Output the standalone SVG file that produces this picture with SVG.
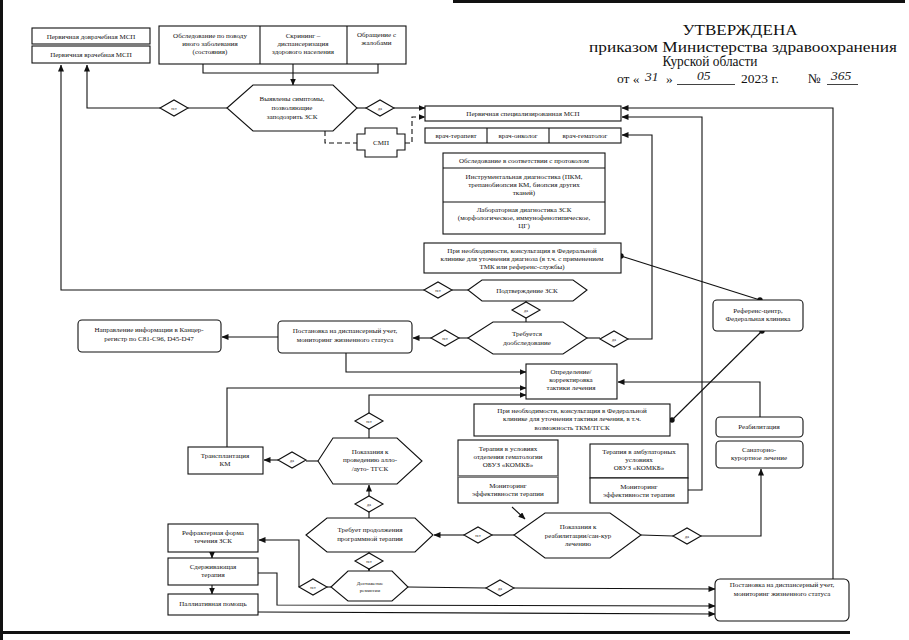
<svg xmlns="http://www.w3.org/2000/svg" width="909" height="640" viewBox="0 0 909 640">
<style>
.b{fill:#fff;stroke:#111;stroke-width:1.1}
.t{font-family:"Liberation Serif","DejaVu Serif",serif;font-size:7px;fill:#111;text-anchor:middle}
.s{font-size:4px}
.h{font-family:"Liberation Serif","DejaVu Serif",serif;font-size:14px;fill:#111;text-anchor:middle}
.hs{font-family:"Liberation Serif","DejaVu Serif",serif;font-size:13.5px;fill:#111}
.hw{font-family:"Liberation Serif",serif;font-style:italic;font-size:13.5px;fill:#222}
.c{fill:none;stroke:#111;stroke-width:1.1}
.a{marker-end:url(#ar)}
.d{stroke-dasharray:5 3}
</style>
<defs>
<marker id="ar" markerWidth="7" markerHeight="6" refX="6.5" refY="3" orient="auto" markerUnits="userSpaceOnUse"><path d="M0,0 L7,3 L0,6 z" fill="#111"/></marker>
</defs>
<rect width="909" height="640" fill="#fff"/>
<g id="scan-edges" fill="#111">
<rect x="0" y="0" width="3" height="640"/>
<rect x="0" y="631" width="850" height="3"/>
<rect x="453" y="0" width="452" height="3"/>
</g>
<g id="header">
<text class="h" x="740" y="35" textLength="115" lengthAdjust="spacingAndGlyphs">УТВЕРЖДЕНА</text>
<text class="h" x="743" y="51.5" textLength="308" lengthAdjust="spacingAndGlyphs">приказом Министерства здравоохранения</text>
<text class="h" x="710" y="65.5" textLength="95" lengthAdjust="spacingAndGlyphs">Курской области</text>
<text class="hs" x="617" y="83">от «</text>
<text class="hw" x="645" y="81">31</text>
<text class="hs" x="666" y="83">»</text>
<text class="hw" x="697" y="80">05</text>
<line x1="677" y1="84.5" x2="735" y2="84.5" stroke="#111" stroke-width="0.8"/>
<text class="hs" x="741" y="83">2023 г.</text>
<text class="hs" x="808" y="83">№</text>
<text class="hw" x="831" y="80">365</text>
<line x1="827" y1="84.5" x2="858" y2="84.5" stroke="#111" stroke-width="0.8"/>
</g>
<g id="connectors">
<polyline class="c" points="203,64 203,73 378,73 378,64"/>
<polyline class="c a" points="293,64 293,85"/>
<polyline class="c" points="227,108 188,108"/>
<polyline class="c a" points="160,108 87,108 87,65"/>
<polyline class="c" points="357,108 366,108"/>
<polyline class="c a" points="394,108 425,108"/>
<polyline class="c d" points="325,131 325,143 357,143"/>
<polyline class="c d a" points="405,143 412,143 412,117 425,117"/>
<polyline class="c" points="468,290 452,290"/>
<polyline class="c a" points="424,290 61,290 61,65"/>
<polyline class="c" points="526,301 526,302"/>
<polyline class="c" points="526,318 526,322"/>
<polyline class="c" points="468,338 459,338"/>
<polyline class="c a" points="431,338 413,338"/>
<polyline class="c" points="587,338 600,338"/>
<polyline class="c a" points="628,339 652,339 652,135 622,135"/>
<polyline class="c a" points="278,337 222,337"/>
<polyline class="c a" points="346,353 346,372 526,372"/>
<polyline class="c a" points="227,447 227,388 526,388"/>
<polyline class="c a" points="369,413 369,395 526,395"/>
<polyline class="c" points="369,438 369,429"/>
<polyline class="c" points="318,461 306,461"/>
<polyline class="c a" points="278,460 264,460"/>
<polyline class="c a" points="369,496 369,485"/>
<polyline class="c" points="369,512 369,518"/>
<polyline class="c" points="369,552 369,553"/>
<polyline class="c a" points="369,569 369,571"/>
<polyline class="c" points="331,587 327,587"/>
<polyline class="c a" points="299,587 299,540 259,540"/>
<polyline class="c" points="408,587 486,588"/>
<polyline class="c a" points="514,588 715,589"/>
<polyline class="c a" points="212,552 212,558"/>
<polyline class="c a" points="212,585 212,594"/>
<polyline class="c a" points="258,573 277,573 277,605 715,606"/>
<polyline class="c a" points="258,612 715,614"/>
<polyline class="c a" points="833,579 833,108 622,108"/>
<polyline class="c a" points="688,490 702,490 702,117 622,117"/>
<polyline class="c a" points="760,417 760,382 618,382"/>
<polyline class="c" points="641,535 673,536"/>
<polyline class="c a" points="701,536 761,536 761,469"/>
<polyline class="c" points="514,535 492,535"/>
<polyline class="c a" points="464,535 434,535"/>
<polyline class="c a" points="512,507 525,519"/>
<line class="c" x1="621" y1="256" x2="760" y2="300"/>
<line class="c" x1="762" y1="331" x2="672" y2="420"/>
<g fill="#111"><circle cx="621" cy="256" r="2.7"/><circle cx="760" cy="300" r="2.7"/><circle cx="762" cy="331" r="2.7"/><circle cx="672" cy="420" r="2.7"/></g>
</g>
<g id="diamonds">
<g id="d1"><polygon class="b" points="160,108 174,100 188,108 174,116"/><text class="t s" x="174" y="109.5">нет</text></g>
<g id="d2"><polygon class="b" points="366,108 380,100 394,108 380,116"/><text class="t s" x="380" y="109.5">да</text></g>
<g id="d3"><polygon class="b" points="424,290 438,282 452,290 438,298"/><text class="t s" x="438" y="291.5">нет</text></g>
<g id="d4"><polygon class="b" points="512,310 526,302 540,310 526,318"/><text class="t s" x="526" y="311.5">да</text></g>
<g id="d5"><polygon class="b" points="431,338 445,330 459,338 445,346"/><text class="t s" x="445" y="339.5">нет</text></g>
<g id="d6"><polygon class="b" points="600,339 614,331 628,339 614,347"/><text class="t s" x="614" y="340.5">да</text></g>
<g id="d7"><polygon class="b" points="278,460 292,452 306,460 292,468"/><text class="t s" x="292" y="461.5">да</text></g>
<g id="d8"><polygon class="b" points="355,421 369,413 383,421 369,429"/><text class="t s" x="369" y="422.5">нет</text></g>
<g id="d9"><polygon class="b" points="355,504 369,496 383,504 369,512"/><text class="t s" x="369" y="505.5">да</text></g>
<g id="d10"><polygon class="b" points="355,561 369,553 383,561 369,569"/><text class="t s" x="369" y="562.5">нет</text></g>
<g id="d11"><polygon class="b" points="299,587 313,579 327,587 313,595"/><text class="t s" x="313" y="588.5">нет</text></g>
<g id="d12"><polygon class="b" points="486,588 500,580 514,588 500,596"/><text class="t s" x="500" y="589.5">да</text></g>
<g id="d13"><polygon class="b" points="464,535 478,527 492,535 478,543"/><text class="t s" x="478" y="536.5">нет</text></g>
<g id="d14"><polygon class="b" points="673,536 687,528 701,536 687,544"/><text class="t s" x="687" y="537.5">да</text></g>
</g>
<g id="n-dovrach"><rect class="b" x="32" y="28" width="118" height="16"/><text class="t" x="91" y="38.5">Первичная доврачебная МСП</text></g>
<g id="n-vrach"><rect class="b" x="32" y="46" width="118" height="17"/><text class="t" x="91" y="57">Первичная врачебная МСП</text></g>
<g id="n-sources">
<rect class="b" x="159" y="26" width="247" height="38"/>
<line class="c" x1="260" y1="26" x2="260" y2="64"/><line class="c" x1="347" y1="26" x2="347" y2="64"/>
<text class="t" x="210" y="38">Обследование по поводу</text><text class="t" x="210" y="46">иного заболевания</text><text class="t" x="210" y="54">(состояния)</text>
<text class="t" x="303" y="38">Скрининг –</text><text class="t" x="303" y="46">диспансеризация</text><text class="t" x="303" y="54">здорового населения</text>
<text class="t" x="376.5" y="37">Обращение с</text><text class="t" x="376.5" y="45">жалобами</text>
</g>
<g id="n-symptoms"><polygon class="b" points="227,108 253,85 333,85 357,108 333,131 253,131"/><text class="t" x="292" y="101">Выявлены симптомы,</text><text class="t" x="292" y="110">позволяющие</text><text class="t" x="292" y="119">заподозрить ЗСК</text></g>
<g id="n-smp"><polygon class="b" points="357,134 365,134 365,128 397,128 397,134 405,134 405,150 397,150 397,157 365,157 365,150 357,150"/><text class="t" x="381" y="145">СМП</text></g>
<g id="n-spec"><rect class="b" x="425" y="106" width="196" height="15"/><text class="t" x="523" y="116">Первичная специализированная МСП</text></g>
<g id="n-doctors"><rect class="b" x="425" y="128" width="196" height="15"/><line class="c" x1="487" y1="128" x2="487" y2="143"/><line class="c" x1="549" y1="128" x2="549" y2="143"/>
<text class="t" x="456" y="138">врач-терапевт</text><text class="t" x="518" y="138">врач-онколог</text><text class="t" x="585" y="138">врач-гематолог</text></g>
<g id="n-protocol"><rect class="b" x="443" y="153" width="162" height="81"/><line class="c" x1="443" y1="168" x2="605" y2="168"/><line class="c" x1="443" y1="202" x2="605" y2="202"/>
<text class="t" x="524" y="163">Обследование в соответствии с протоколом</text>
<text class="t" x="524" y="179">Инструментальная диагностика (ПКМ,</text><text class="t" x="524" y="187">трепанобиопсия КМ, биопсия других</text><text class="t" x="524" y="195">тканей)</text>
<text class="t" x="524" y="212">Лабораторная диагностика ЗСК</text><text class="t" x="524" y="220">(морфологическое, иммунофенотипическое,</text><text class="t" x="524" y="228">ЦГ)</text></g>
<g id="n-consult1"><rect class="b" x="424" y="243" width="197" height="30"/><text class="t" x="522" y="253">При необходимости, консультация в Федеральной</text><text class="t" x="522" y="261">клинике для уточнения диагноза (в т.ч. с применением</text><text class="t" x="522" y="269">ТМК или референс-службы)</text></g>
<g id="n-confirm"><polygon class="b" points="468,290 482,280 573,280 587,290 573,301 482,301"/><text class="t" x="527" y="293">Подтверждение ЗСК</text></g>
<g id="n-more"><polygon class="b" points="468,338 493,322 563,322 587,338 563,354 493,354"/><text class="t" x="527" y="336">Требуется</text><text class="t" x="527" y="345">дообследование</text></g>
<g id="n-disp1"><rect class="b" x="278" y="321" width="134" height="32" rx="4"/><text class="t" x="345" y="333">Постановка на диспансерный учет,</text><text class="t" x="345" y="342">мониторинг жизненного статуса</text></g>
<g id="n-cancer"><rect class="b" x="78" y="320" width="143" height="32" rx="4"/><text class="t" x="149" y="332">Направление информации в Канцер-</text><text class="t" x="149" y="341">регистр по С81-С96, D45-D47</text></g>
<g id="n-reference"><rect class="b" x="713" y="300" width="90" height="31" rx="4"/><text class="t" x="758" y="313">Референс-центр,</text><text class="t" x="758" y="321">Федеральная клиника</text></g>
<g id="n-tactics"><rect class="b" x="526" y="364" width="91" height="35"/><text class="t" x="571" y="374">Определение/</text><text class="t" x="571" y="382">корректировка</text><text class="t" x="571" y="390">тактики лечения</text></g>
<g id="n-consult2"><rect class="b" x="474" y="404" width="196" height="32"/><text class="t" x="572" y="413">При необходимости, консультация в Федеральной</text><text class="t" x="572" y="421">клинике для уточнения тактики лечения, в т.ч.</text><text class="t" x="572" y="430">возможность ТКМ/ТГСК</text></g>
<g id="n-rehab"><rect class="b" x="716" y="417" width="87" height="20" rx="4"/><text class="t" x="759" y="429">Реабилитация</text></g>
<g id="n-sanat"><rect class="b" x="716" y="441" width="87" height="27" rx="4"/><text class="t" x="759" y="452">Санаторно-</text><text class="t" x="759" y="460">курортное лечение</text></g>
<g id="n-transplant"><rect class="b" x="188" y="447" width="75" height="27"/><text class="t" x="225" y="458">Трансплантация</text><text class="t" x="225" y="466">КМ</text></g>
<g id="n-tgsk"><polygon class="b" points="318,461 333,438 397,438 422,461 397,484 333,484"/><text class="t" x="370" y="454">Показания к</text><text class="t" x="370" y="462">проведению алло-</text><text class="t" x="370" y="471">/ауто- ТГСК</text></g>
<g id="n-ther-hem"><rect class="b" x="458" y="440" width="100" height="36"/><text class="t" x="508" y="451">Терапия в условиях</text><text class="t" x="508" y="459">отделения гематологии</text><text class="t" x="508" y="467">ОБУЗ «КОМКБ»</text></g>
<g id="n-mon-hem"><rect class="b" x="458" y="477" width="100" height="26"/><line x1="458" y1="476.5" x2="558" y2="476.5" stroke="#888" stroke-width="2"/><text class="t" x="508" y="488">Мониторинг</text><text class="t" x="508" y="496">эффективности терапии</text></g>
<g id="n-ther-amb"><rect class="b" x="590" y="444" width="98" height="34"/><text class="t" x="639" y="454">Терапия в амбулаторных</text><text class="t" x="639" y="462">условиях</text><text class="t" x="639" y="470">ОБУЗ «КОМКБ»</text></g>
<g id="n-mon-amb"><rect class="b" x="590" y="478" width="98" height="25"/><text class="t" x="639" y="489">Мониторинг</text><text class="t" x="639" y="497">эффективности терапии</text></g>
<g id="n-rehab-ind"><polygon class="b" points="514,535 545,513 610,513 641,535 610,558 545,558"/><text class="t" x="578" y="529">Показания к</text><text class="t" x="578" y="538">реабилитации/сан-кур</text><text class="t" x="578" y="546">лечению</text></g>
<g id="n-continue"><polygon class="b" points="306,535 327,518 415,518 433,535 415,552 327,552"/><text class="t" x="370" y="532">Требует продолжения</text><text class="t" x="370" y="541">программной терапии</text></g>
<g id="n-remission"><polygon class="b" points="331,587 348,571 392,571 408,587 392,601 348,601"/><text class="t" x="370" y="585" style="font-size:5px">Достижение</text><text class="t" x="370" y="592" style="font-size:5px">ремиссии</text></g>
<g id="n-refract"><rect class="b" x="168" y="524" width="90" height="28"/><text class="t" x="213" y="535">Рефрактерная форма</text><text class="t" x="213" y="543">течения ЗСК</text></g>
<g id="n-contain"><rect class="b" x="168" y="558" width="90" height="27"/><text class="t" x="213" y="569">Сдерживающая</text><text class="t" x="213" y="577">терапия</text></g>
<g id="n-palliative"><rect class="b" x="168" y="594" width="90" height="21"/><text class="t" x="213" y="606">Паллиативная помощь</text></g>
<g id="n-disp2"><rect class="b" x="715" y="579" width="134" height="42" rx="5"/><text class="t" x="782" y="587">Постановка на диспансерный учет,</text><text class="t" x="782" y="596">мониторинг жизненного статуса</text></g>
</svg>
